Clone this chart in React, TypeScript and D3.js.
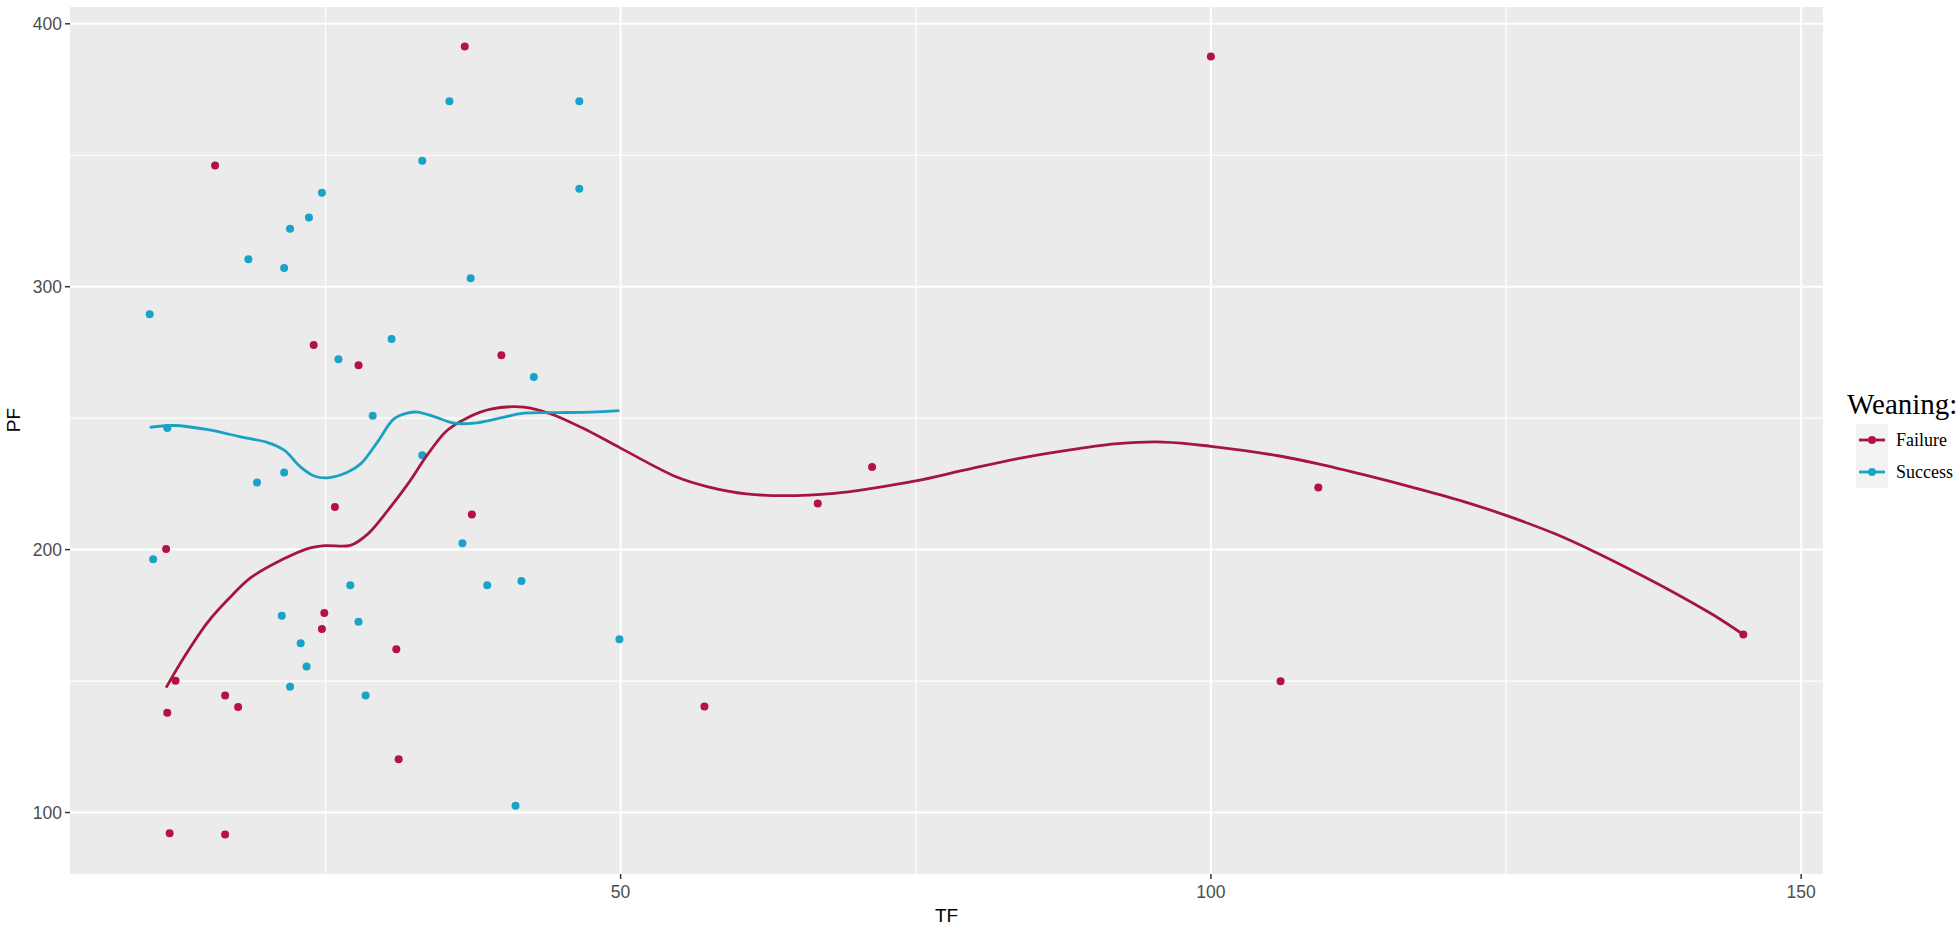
import React from "react";
import * as d3 from "d3";

// Failure observations (TF, PF)
const failureTF = [15.65, 24.0, 27.8, 36.8, 39.9, 25.8, 37.4, 11.5, 24.9, 24.7, 31.0, 12.3, 16.5, 17.6, 11.6, 31.2, 11.8, 16.5, 57.1, 66.7, 71.3, 100.0, 105.9, 109.1, 145.1];
const failurePF = [346.1, 277.8, 270.1, 391.4, 273.9, 216.2, 213.4, 200.2, 175.9, 169.8, 162.1, 150.1, 144.5, 140.1, 137.9, 120.3, 92.1, 91.6, 140.3, 217.5, 231.4, 387.6, 149.9, 223.6, 167.7];

// Success observations (TF, PF)
const successTF = [10.11, 11.6, 18.47, 21.5, 22.0, 23.6, 24.7, 26.1, 30.6, 29.0, 33.2, 35.5, 37.3, 42.65, 46.5, 46.5, 33.2, 19.2, 21.5, 36.6, 10.4, 27.1, 38.7, 41.6, 21.3, 27.8, 22.9, 49.9, 23.4, 22.0, 28.4, 41.1];
const successPF = [289.5, 246.3, 310.4, 307.1, 322.0, 326.3, 335.7, 272.4, 280.1, 250.9, 347.9, 370.5, 303.2, 265.7, 370.5, 337.3, 235.9, 225.5, 229.3, 202.4, 196.3, 186.4, 186.4, 188.1, 174.8, 172.6, 164.4, 165.9, 155.5, 147.8, 144.5, 102.6];

// Smoothed (loess) curves
const failureSmoothTF = [11.5, 13.1, 15.05, 16.74, 18.7, 21.25, 23.5, 25.0, 27.1, 28.6, 30.3, 32.0, 33.7, 35.3, 37.0, 39.0, 41.8, 44.1, 47.2, 50.0, 54.8, 57.4, 60.65, 63.9, 68.1, 71.3, 75.0, 79.1, 84.0, 88.8, 92.1, 96.0, 100.0, 105.7, 109.1, 113.1, 117.4, 121.7, 125.0, 129.1, 132.4, 135.8, 139.1, 142.5, 145.1];
const failureSmoothPF = [147.5, 159.6, 172.5, 181.0, 189.4, 196.0, 200.4, 201.5, 201.6, 206.0, 215.0, 225.1, 236.5, 245.3, 250.1, 253.4, 254.2, 251.6, 245.3, 238.6, 227.5, 223.9, 221.2, 220.5, 221.4, 223.3, 226.1, 230.2, 234.9, 238.4, 240.3, 240.9, 239.3, 235.7, 232.6, 228.3, 223.3, 217.9, 213.0, 206.1, 199.4, 191.8, 184.0, 175.3, 167.7];

const successSmoothTF = [10.11, 12.2, 15.05, 17.9, 20.1, 21.5, 22.9, 24.1, 25.2, 26.9, 28.0, 29.4, 30.8, 32.0, 32.8, 34.2, 35.9, 37.6, 39.5, 41.8, 44.6, 47.5, 49.9];
const successSmoothPF = [246.5, 247.2, 245.6, 242.8, 240.7, 237.8, 231.4, 227.9, 227.3, 229.5, 232.7, 240.9, 249.7, 252.0, 252.3, 250.6, 248.1, 248.1, 249.7, 251.9, 252.1, 252.3, 252.9];

const xMajor = [50, 100, 150];
const xMinor = [25, 75, 125];
const yMajor = [100, 200, 300, 400];
const yMinor = [150, 250, 350];

const seriesNames = ["Failure", "Success"];
const pointColors = ["#B5133F", "#19A3C8"];
const lineColors = ["#A5163F", "#1AA0C4"];

export default function App() {
  const W = 1960, H = 928;
  const left = 70, right = 1823, top = 7, bottom = 874;

  const allTF = [...failureTF, ...successTF];
  const allPF = [...failurePF, ...successPF];
  const [tx0, tx1] = d3.extent(allTF) as [number, number];
  const [py0, py1] = d3.extent(allPF) as [number, number];
  const ex = (tx1 - tx0) * 0.05, ey = (py1 - py0) * 0.05;

  const x = d3.scaleLinear().domain([tx0 - ex, tx1 + ex]).range([left, right]);
  const y = d3.scaleLinear().domain([py0 - ey, py1 + ey]).range([bottom, top]);

  const line = d3
    .line<[number, number]>()
    .x((d) => x(d[0]))
    .y((d) => y(d[1]))
    .curve(d3.curveCatmullRom.alpha(0.5));

  const fLine = line(failureSmoothTF.map((t, i) => [t, failureSmoothPF[i]]));
  const sLine = line(successSmoothTF.map((t, i) => [t, successSmoothPF[i]]));

  const sans = "'Liberation Sans', Arial, sans-serif";
  const serif = "'Liberation Serif', 'Times New Roman', serif";

  const legX = 1856, legY = 424, key = 32;

  return (
    <svg width={W} height={H} style={{ display: "block", position: "absolute", left: 0, top: 0 }}>
      <rect x={0} y={0} width={W} height={H} fill="#ffffff" />
      <rect x={left} y={top} width={right - left} height={bottom - top} fill="#EBEBEB" />
      {yMinor.map((v) => (
        <line key={"ym" + v} x1={left} x2={right} y1={y(v)} y2={y(v)} stroke="#fff" strokeWidth={1.2} />
      ))}
      {xMinor.map((v) => (
        <line key={"xm" + v} x1={x(v)} x2={x(v)} y1={top} y2={bottom} stroke="#fff" strokeWidth={1.2} />
      ))}
      {yMajor.map((v) => (
        <line key={"yM" + v} x1={left} x2={right} y1={y(v)} y2={y(v)} stroke="#fff" strokeWidth={2} />
      ))}
      {xMajor.map((v) => (
        <line key={"xM" + v} x1={x(v)} x2={x(v)} y1={top} y2={bottom} stroke="#fff" strokeWidth={2} />
      ))}

      {failureTF.map((t, i) => (
        <circle key={"f" + i} cx={x(t)} cy={y(failurePF[i])} r={4} fill={pointColors[0]} />
      ))}
      {successTF.map((t, i) => (
        <circle key={"s" + i} cx={x(t)} cy={y(successPF[i])} r={4} fill={pointColors[1]} />
      ))}
      <path d={fLine ?? ""} fill="none" stroke={lineColors[0]} strokeWidth={2.8} />
      <path d={sLine ?? ""} fill="none" stroke={lineColors[1]} strokeWidth={2.8} />

      {/* y axis */}
      {yMajor.map((v) => (
        <g key={"yt" + v}>
          <line x1={left - 5} x2={left} y1={y(v)} y2={y(v)} stroke="#333" strokeWidth={1.5} />
          <text x={left - 8} y={y(v)} dy="0.36em" textAnchor="end" fontFamily={sans} fontSize={17.5} fill="#4D4D4D">
            {v}
          </text>
        </g>
      ))}
      {/* x axis */}
      {xMajor.map((v) => (
        <g key={"xt" + v}>
          <line x1={x(v)} x2={x(v)} y1={bottom} y2={bottom + 5} stroke="#333" strokeWidth={1.5} />
          <text x={x(v)} y={bottom + 24} textAnchor="middle" fontFamily={sans} fontSize={17.5} fill="#4D4D4D">
            {v}
          </text>
        </g>
      ))}
      <text x={(left + right) / 2} y={922} textAnchor="middle" fontFamily={sans} fontSize={19} fill="#000">
        TF
      </text>
      <text
        transform={`translate(20, 420) rotate(-90)`}
        textAnchor="middle"
        fontFamily={sans}
        fontSize={19}
        fill="#000"
      >
        PF
      </text>

      {/* legend */}
      <text x={1847} y={414} fontFamily={serif} fontSize={29} fill="#000">
        Weaning:
      </text>
      {seriesNames.map((name, i) => (
        <g key={name}>
          <rect x={legX} y={legY + i * key} width={key} height={key} fill="#F2F2F2" />
          <line
            x1={legX + 3}
            x2={legX + key - 3}
            y1={legY + i * key + key / 2}
            y2={legY + i * key + key / 2}
            stroke={lineColors[i]}
            strokeWidth={2.8}
          />
          <circle cx={legX + key / 2} cy={legY + i * key + key / 2} r={4} fill={pointColors[i]} />
          <text x={legX + key + 8} y={legY + i * key + key / 2} dy="0.35em" fontFamily={serif} fontSize={18} fill="#000">
            {name}
          </text>
        </g>
      ))}
    </svg>
  );
}
